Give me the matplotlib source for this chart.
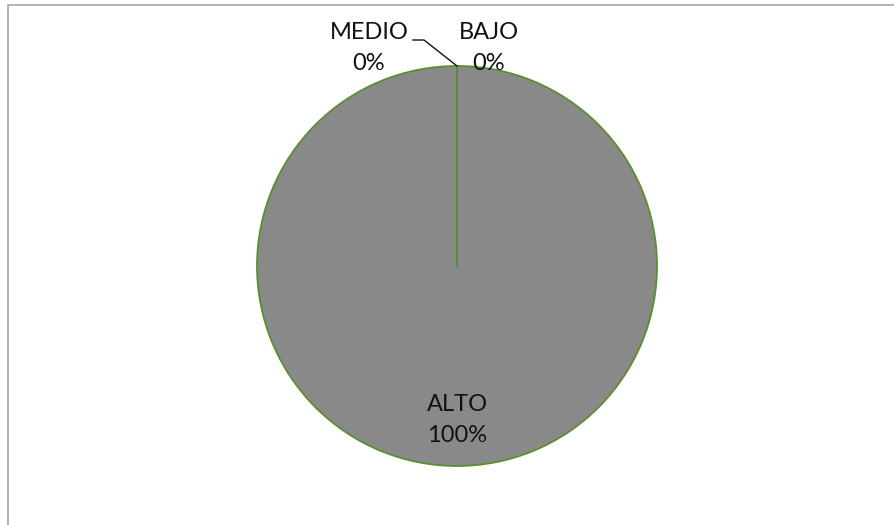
import numpy as np
import matplotlib.pyplot as plt
from matplotlib.patches import Rectangle

labels = ['BAJO', 'MEDIO', 'ALTO']
values = [0, 0, 100]
total = sum(values)
pcts = [f'{round(v / total * 100)}%' for v in values]

W, H = 895, 525
fig = plt.figure(figsize=(W / 100, H / 100), dpi=100)
ax = fig.add_axes([0, 0, 1, 1])
ax.set_xlim(0, W)
ax.set_ylim(0, H)
ax.axis('off')

# chart area frame (only left and top edges show)
ax.add_patch(Rectangle((8.5, -10), W, H - 4.5 + 10, fill=False,
                       edgecolor='#a6a6a6', linewidth=1.2))

edge = '#5b8f2e'
cx, cy, r = 457, H - 266, 200
wedges, _ = ax.pie(values, center=(cx, cy), radius=r, startangle=90,
                   counterclock=False, colors=['#898989'] * 3,
                   wedgeprops=dict(edgecolor=edge, linewidth=1.3))
# zero-size slices still show as a radial line
for w in wedges:
    if w.theta1 == w.theta2:
        a = np.deg2rad(w.theta1)
        ax.plot([cx, cx + r * np.cos(a)], [cy, cy + r * np.sin(a)],
                color=edge, linewidth=1.3)
ax.set_aspect('equal')
ax.set_xlim(0, W)
ax.set_ylim(0, H)

font = dict(family=['Lato', 'DejaVu Sans'], fontsize=17, color='#111111',
            ha='center', va='center', linespacing=1.55)
pos = {'BAJO': (489, H - 48), 'MEDIO': (369, H - 48), 'ALTO': (457, H - 420)}
for lab, p in zip(labels, pcts):
    x, y = pos[lab]
    ax.text(x, y, f'{lab}\n{p}', **font)

# leader line for MEDIO
ax.plot([413, 424, 457], [H - 40, H - 40, H - 66], color='#111111', linewidth=1.0)

fig.savefig('out.png', dpi=100, facecolor='white')
